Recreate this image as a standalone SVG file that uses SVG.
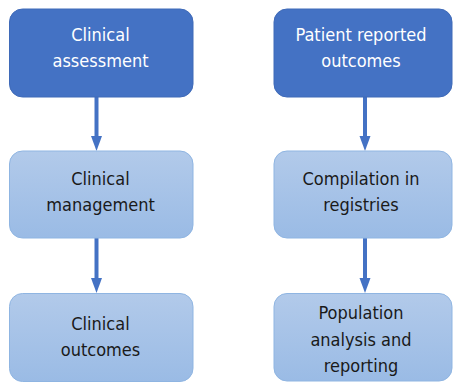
<svg xmlns="http://www.w3.org/2000/svg" width="453" height="383" viewBox="0 0 453 383">
  <defs>
    <linearGradient id="lightFill" x1="0" y1="0" x2="0" y2="1">
      <stop offset="0" stop-color="#B2CAEA"/>
      <stop offset="1" stop-color="#9ABBE5"/>
    </linearGradient>
    <path id="arrowHead" d="M-5.5,0 L5.5,0 L0,15 Z"/>
  </defs>
  <style>
    .dark { fill: #4472C4; stroke: #3F6AB8; stroke-width: 1; }
    .light { fill: url(#lightFill); stroke: #8FB5E2; stroke-width: 1; }
    text { font-family: "DejaVu Sans Condensed", "DejaVu Sans", sans-serif; font-stretch: condensed; font-size: 18px; text-anchor: middle; }
    .onDark { fill: #FFFFFF; }
    .onLight { fill: #1A1A1A; }
    .link { stroke: #4472C4; stroke-width: 4; fill: none; }
    .head { fill: #4472C4; }
  </style>

  <g id="connectors">
    <line class="link" x1="96.5" y1="97" x2="96.5" y2="137"/>
    <use class="head" href="#arrowHead" x="96.5" y="136"/>
    <line class="link" x1="96.5" y1="238" x2="96.5" y2="279"/>
    <use class="head" href="#arrowHead" x="96.5" y="278"/>
    <line class="link" x1="365" y1="97" x2="365" y2="137"/>
    <use class="head" href="#arrowHead" x="365" y="136"/>
    <line class="link" x1="365" y1="238" x2="365" y2="279"/>
    <use class="head" href="#arrowHead" x="365" y="278"/>
  </g>

  <g id="clinical-assessment">
    <rect class="dark" x="9.5" y="9" width="183.5" height="88" rx="13"/>
    <text class="onDark" x="100.5" y="40.7">Clinical</text>
    <text class="onDark" x="100.5" y="66.7">assessment</text>
  </g>

  <g id="clinical-management">
    <rect class="light" x="9.5" y="151" width="183.5" height="87" rx="13"/>
    <text class="onLight" x="100.5" y="185">Clinical</text>
    <text class="onLight" x="100.5" y="210.7">management</text>
  </g>

  <g id="clinical-outcomes">
    <rect class="light" x="9.5" y="293.5" width="183.5" height="88" rx="13"/>
    <text class="onLight" x="100.5" y="330">Clinical</text>
    <text class="onLight" x="100.5" y="355.5">outcomes</text>
  </g>

  <g id="patient-reported-outcomes">
    <rect class="dark" x="274" y="9" width="178" height="88" rx="13"/>
    <text class="onDark" x="361" y="40.5">Patient reported</text>
    <text class="onDark" x="361" y="66.7">outcomes</text>
  </g>

  <g id="compilation-in-registries">
    <rect class="light" x="274" y="151" width="178" height="87" rx="13"/>
    <text class="onLight" x="361" y="185">Compilation in</text>
    <text class="onLight" x="361" y="210.7">registries</text>
  </g>

  <g id="population-analysis">
    <rect class="light" x="274" y="293.5" width="178" height="87.5" rx="13"/>
    <text class="onLight" x="361" y="319.3">Population</text>
    <text class="onLight" x="361" y="346">analysis and</text>
    <text class="onLight" x="361" y="371.7">reporting</text>
  </g>
</svg>
